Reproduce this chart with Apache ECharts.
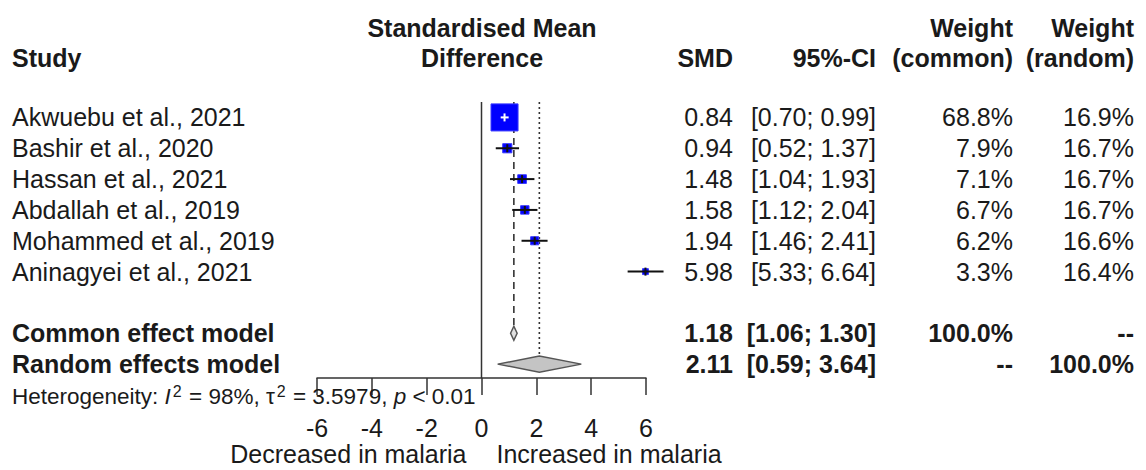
<!DOCTYPE html>
<html>
<head>
<meta charset="utf-8">
<script src="https://cdn.jsdelivr.net/npm/echarts@6/dist/echarts.min.js"></script>
<style>
html,body{margin:0;padding:0;background:#fff;}
#chart{width:1146px;height:470px;}
</style>
</head>
<body>
<div id="chart"></div>
<script>
// ---- data ----
const studies = ["Akwuebu et al., 2021", "Bashir et al., 2020", "Hassan et al., 2021",
  "Abdallah et al., 2019", "Mohammed et al., 2019", "Aninagyei et al., 2021"];
const smd = [0.84, 0.94, 1.48, 1.58, 1.94, 5.98];
const ciLow = [0.70, 0.52, 1.04, 1.12, 1.46, 5.33];
const ciHigh = [0.99, 1.37, 1.93, 2.04, 2.41, 6.64];
const weightCommon = [68.8, 7.9, 7.1, 6.7, 6.2, 3.3];
const weightRandom = [16.9, 16.7, 16.7, 16.7, 16.6, 16.4];
const pooledLabels = ["Common effect model", "Random effects model"];
const pooledSMD = [1.18, 2.11];
const pooledLow = [1.06, 0.59];
const pooledHigh = [1.30, 3.64];
const pooledWeightCommon = ["100.0%", "--"];
const pooledWeightRandom = ["--", "100.0%"];
const xTicks = [-6, -4, -2, 0, 2, 4, 6];
const hetI2 = "98%", hetTau2 = "3.5979", hetP = "< 0.01";
const leftLabel = "Decreased in malaria", rightLabel = "Increased in malaria";

// ---- layout ----
const FONT = "Liberation Sans, Arial, Helvetica, sans-serif";
const FS = 25;
const HFS = 22.5;
const TXT = '#1a1a1a';
const COL = { study: 12, smd: 733, ci: 876, wc: 1013, wr: 1134 };
const pooledRow0 = studies.length + 1;

const f2 = v => v.toFixed(2);
const studyData = studies.map((s, i) => [smd[i], i, ciLow[i], ciHigh[i], weightCommon[i], weightRandom[i]]);
const pooledData = pooledLabels.map((s, j) => [pooledSMD[j], pooledRow0 + j, pooledLow[j], pooledHigh[j], j]);
const refData = [[0, 0], [pooledSMD[0], 0], [pooledSMD[1], 0]];

function txt(x, y, text, align, bold) {
  return { type: 'text', x: x, y: y, silent: true,
    style: { text: text, fill: TXT, align: align, verticalAlign: 'middle',
      font: (bold ? 'bold ' : '') + FS + 'px ' + FONT } };
}

const chart = echarts.init(document.getElementById('chart'), null, { renderer: 'svg' });

const option = {
  animation: false,
  backgroundColor: '#fff',
  textStyle: { fontFamily: FONT },
  grid: { left: 317, width: 329, top: 102, height: 276 },
  xAxis: {
    type: 'value', min: xTicks[0], max: xTicks[xTicks.length - 1], interval: 2,
    axisLine: { show: true, onZero: false, lineStyle: { color: '#333', width: 1.5 } },
    axisTick: { show: true, length: 17, lineStyle: { color: '#333', width: 1.5 } },
    axisLabel: { fontSize: FS, color: TXT, margin: 37, fontFamily: FONT },
    splitLine: { show: false }
  },
  yAxis: { type: 'value', inverse: true, min: -0.5, max: 8.45, show: false },
  series: [
    { // reference lines: zero, common effect (dashed), random effects (dotted)
      type: 'custom', clip: false, data: refData, encode: { x: 0, y: 1 }, z: 1,
      renderItem: function (params, api) {
        const k = params.dataIndex;
        const x = api.coord([api.value(0), 0])[0];
        const top = api.coord([0, -0.5])[1];
        let bottom, dash;
        if (k === 0) { bottom = api.coord([0, 8.45])[1]; dash = null; }
        else if (k === 1) { bottom = api.coord([0, pooledRow0])[1] - 7; dash = [7, 5]; }
        else { bottom = api.coord([0, pooledRow0 + 1])[1] - 8; dash = [2, 3]; }
        return { type: 'line', shape: { x1: x, y1: top, x2: x, y2: bottom },
          style: { stroke: '#333', lineWidth: k === 0 ? 1.5 : 1.6, lineDash: dash } };
      }
    },
    { // studies: box + CI
      type: 'custom', clip: false, data: studyData, encode: { x: 0, y: 1 }, z: 3,
      renderItem: function (params, api) {
        const est = api.value(0), row = api.value(1);
        const c = api.coord([est, row]);
        const pl = api.coord([api.value(2), row]);
        const ph = api.coord([api.value(3), row]);
        const s = 3.26 * Math.sqrt(api.value(4));
        const inside = (ph[0] - pl[0]) < s;
        const col = inside ? '#ffffff' : '#111';
        return { type: 'group', children: [
          { type: 'rect', shape: { x: c[0] - s / 2, y: c[1] - s / 2, width: s, height: s },
            style: { fill: '#0000ff', stroke: '#3a3aff', lineWidth: 1 } },
          { type: 'line', shape: { x1: pl[0], y1: c[1], x2: ph[0], y2: c[1] },
            style: { stroke: col, lineWidth: 2 } },
          { type: 'line', shape: { x1: c[0], y1: c[1] - 4, x2: c[0], y2: c[1] + 4 },
            style: { stroke: col, lineWidth: 2 } }
        ] };
      }
    },
    { // pooled diamonds
      type: 'custom', clip: false, data: pooledData, encode: { x: 0, y: 1 }, z: 3,
      renderItem: function (params, api) {
        const row = api.value(1);
        const c = api.coord([api.value(0), row]);
        const pl = api.coord([api.value(2), row]);
        const ph = api.coord([api.value(3), row]);
        const h = params.dataIndex === 0 ? 7 : 8;
        return { type: 'polygon',
          shape: { points: [[pl[0], c[1]], [c[0], c[1] - h], [ph[0], c[1]], [c[0], c[1] + h]] },
          style: { fill: params.dataIndex === 0 ? '#e0e0e0' : '#c4c4c4', stroke: '#555', lineWidth: 1.5 } };
      }
    },
    { // study table text
      type: 'custom', clip: false, data: studyData, encode: { x: 0, y: 1 }, z: 5, silent: true,
      renderItem: function (params, api) {
        const i = params.dataIndex;
        const y = api.coord([0, api.value(1)])[1];
        return { type: 'group', children: [
          txt(COL.study, y, studies[i], 'left', false),
          txt(COL.smd, y, f2(smd[i]), 'right', false),
          txt(COL.ci, y, '[' + f2(ciLow[i]) + '; ' + f2(ciHigh[i]) + ']', 'right', false),
          txt(COL.wc, y, weightCommon[i].toFixed(1) + '%', 'right', false),
          txt(COL.wr, y, weightRandom[i].toFixed(1) + '%', 'right', false)
        ] };
      }
    },
    { // pooled table text
      type: 'custom', clip: false, data: pooledData, encode: { x: 0, y: 1 }, z: 5, silent: true,
      renderItem: function (params, api) {
        const j = params.dataIndex;
        const y = api.coord([0, api.value(1)])[1];
        return { type: 'group', children: [
          txt(COL.study, y, pooledLabels[j], 'left', true),
          txt(COL.smd, y, f2(pooledSMD[j]), 'right', true),
          txt(COL.ci, y, '[' + f2(pooledLow[j]) + '; ' + f2(pooledHigh[j]) + ']', 'right', true),
          txt(COL.wc, y, pooledWeightCommon[j], 'right', true),
          txt(COL.wr, y, pooledWeightRandom[j], 'right', true)
        ] };
      }
    },
    { // direction labels under axis
      type: 'custom', clip: false, data: [[0, 0]], encode: { x: 0, y: 1 }, z: 5, silent: true,
      renderItem: function (params, api) {
        const x0 = api.coord([0, 0])[0];
        return { type: 'group', children: [
          txt(x0 - 15, 454, leftLabel, 'right', false),
          txt(x0 + 15, 454, rightLabel, 'left', false)
        ] };
      }
    }
  ],
  graphic: [
    { type: 'group', silent: true, children: [
      txt(COL.study, 58, 'Study', 'left', true),
      txt(482, 28, 'Standardised Mean', 'center', true),
      txt(482, 58, 'Difference', 'center', true),
      txt(COL.smd, 58, 'SMD', 'right', true),
      txt(COL.ci, 58, '95%-CI', 'right', true),
      txt(COL.wc, 28, 'Weight', 'right', true),
      txt(COL.wc, 58, '(common)', 'right', true),
      txt(COL.wr, 28, 'Weight', 'right', true),
      txt(COL.wr, 58, '(random)', 'right', true),
      { type: 'text', x: COL.study, y: 396, silent: true, z: 10,
        style: {
          text: '{a|Heterogeneity: }{i|I}{s|2}{a| = ' + hetI2 + ', τ}{s|2}{a| = ' + hetTau2 + ', }{i|p}{a| ' + hetP + '}',
          verticalAlign: 'middle', align: 'left', fill: TXT,
          rich: {
            a: { fontSize: HFS, fontFamily: FONT, fill: TXT, lineHeight: 26 },
            i: { fontSize: HFS, fontFamily: FONT, fontStyle: 'italic', fill: TXT, lineHeight: 26 },
            s: { fontSize: 16, fontFamily: FONT, fill: TXT, lineHeight: 26, verticalAlign: 'top', padding: [0, 1, 10, 2] }
          }
        } }
    ] }
  ]
};
chart.setOption(option);
</script>
</body>
</html>
